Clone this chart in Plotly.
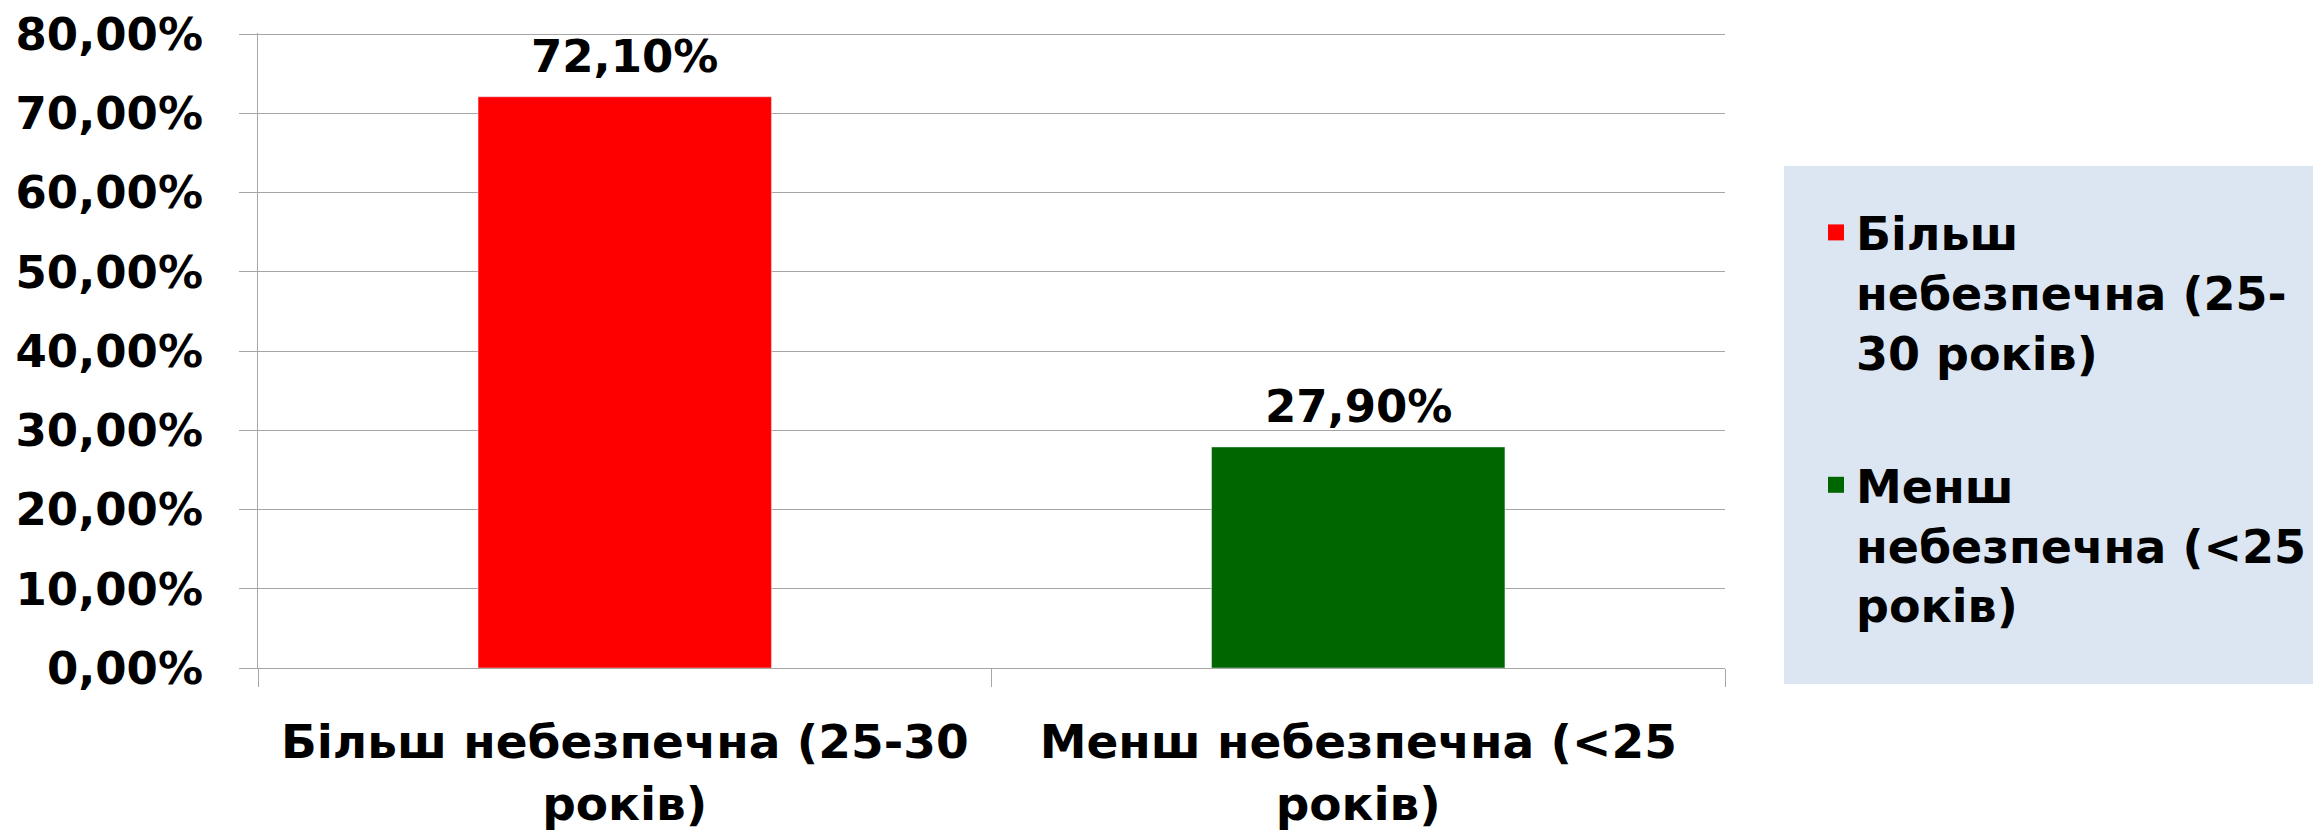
import plotly.graph_objects as go

categories = ["Більш небезпечна (25-30<br>років)", "Менш небезпечна (<25<br>років)"]
legend_names = ["Більш<br>небезпечна (25-<br>30 років)", "Менш<br>небезпечна (<25<br>років)"]
shares = [0.721, 0.279]
colors = ["#FF0000", "#006600"]
y_ticks = [0, 0.1, 0.2, 0.3, 0.4, 0.5, 0.6, 0.7, 0.8]

FONT = "DejaVu Sans"
OFF = 8  # default body margin of the html page
W, H = 2321 - OFF, 835 - OFF
L, T = 258 - OFF, 33 - OFF
pw, ph = 1467, 635
R, B = W - L - pw, H - T - ph

# convert page pixel positions into paper coordinates
def px_x(v):
    return (v - OFF - L) / pw

def px_y(v):
    return (T + ph - (v - OFF)) / ph

fig = go.Figure()
for i, (cat, name, val, col) in enumerate(zip(categories, legend_names, shares, colors)):
    fig.add_trace(go.Bar(
        x=[cat], y=[val], marker_color=col, width=0.4, showlegend=False,
    ))
    # legend entry with a bigger square swatch
    fig.add_trace(go.Scatter(
        x=[cat], y=[None], mode="markers", name=name, legendgroup=f"g{i}",
        marker=dict(symbol="square", size=27, color=col),
    ))
    fig.add_annotation(
        x=cat, y=val, text=f"{val * 100:.2f}%".replace(".", ","),
        showarrow=False, yanchor="bottom", yshift=12,
        font=dict(family=FONT, size=45, color="black", weight="bold"),
    )

# legend background panel
fig.add_shape(type="rect", xref="paper", yref="paper",
              x0=px_x(1784), x1=px_x(2330), y0=px_y(684), y1=px_y(166),
              fillcolor="#DCE6F2", line_width=0, layer="below")

fig.update_layout(
    width=W, height=H,
    margin=dict(l=L, r=R, t=T, b=B, autoexpand=False),
    paper_bgcolor="white", plot_bgcolor="white",
    barmode="overlay",
    separators=", ",
    font=dict(family=FONT, size=45, color="black", weight="bold"),
    showlegend=True,
    legend=dict(
        x=px_x(1816), y=px_y(196), xanchor="left", yanchor="top",
        bgcolor="rgba(0,0,0,0)", traceorder="grouped", tracegroupgap=70,
        valign="top", itemsizing="trace",
        font=dict(family=FONT, size=46, color="black", weight="bold"),
    ),
    xaxis=dict(
        showline=True, linecolor="#A6A6A6", linewidth=1, automargin=False,
        ticks="outside", ticklen=18, tickcolor="#A6A6A6", tickson="boundaries",
        ticklabelstandoff=33, showgrid=False,
        tickfont=dict(family=FONT, size=47, color="black", weight="bold"),
    ),
    yaxis=dict(
        range=[0, 0.8015], tickvals=y_ticks, tickformat=".2%", automargin=False,
        showline=True, linecolor="#A6A6A6", linewidth=1,
        ticks="outside", ticklen=18, tickcolor="#A6A6A6",
        showgrid=True, gridcolor="#A6A6A6", gridwidth=1,
        ticklabelstandoff=27, zeroline=False, ticklabeloverflow="allow",
    ),
)

fig.write_html("out.html")
